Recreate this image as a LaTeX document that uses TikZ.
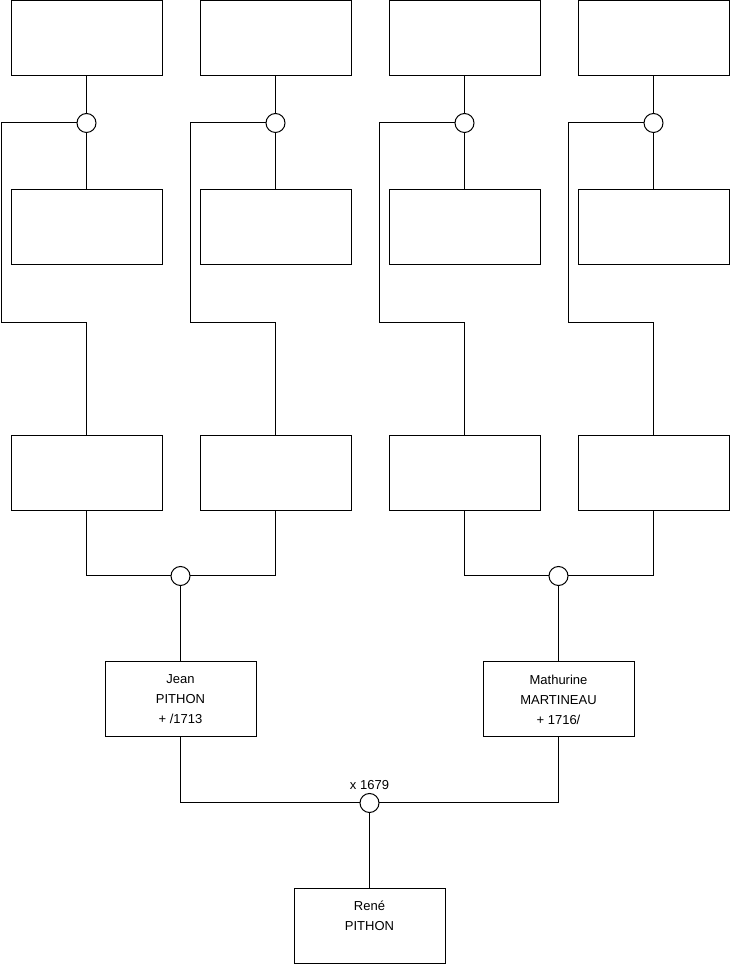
\documentclass[tikz,border=0pt]{standalone}
\usepackage{fontspec}
\setmainfont{Liberation Sans}
\usetikzlibrary{positioning}

\begin{document}
\begin{tikzpicture}[x=1pt,y=1pt,line width=1pt,node distance=38pt,
   perbox/.style={draw,minimum width=151pt,minimum height=75pt,inner sep=1pt,
     outer sep=0pt,align=center,font=\fontsize{13}{20}\selectfont},
   union/.style={draw,circle,minimum size=19pt,inner sep=0pt,outer sep=0pt,fill=white}]
\useasboundingbox (0,0) rectangle (740,975);
% fathers of the grandparents
\node[perbox] (pa1) at (86.5,936.5) {};
\node[perbox,right=of pa1] (pa2) {};
\node[perbox,right=of pa2] (pa3) {};
\node[perbox,right=of pa3] (pa4) {};
% mothers of the grandparents
\node[perbox,below=114pt of pa1] (ma1) {};
\node[perbox,below=114pt of pa2] (ma2) {};
\node[perbox,below=114pt of pa3] (ma3) {};
\node[perbox,below=114pt of pa4] (ma4) {};
% grandparents
\node[perbox,below=171pt of ma1] (gp1) {};
\node[perbox,below=171pt of ma2] (gp2) {};
\node[perbox,below=171pt of ma3] (gp3) {};
\node[perbox,below=171pt of ma4] (gp4) {};
% parents and child
\node[perbox] (jean) at (180.5,275.5) {Jean\\PITHON\\+ /1713};
\node[perbox] (mathurine) at (558.5,275.5) {Mathurine\\MARTINEAU\\+ 1716/};
\node[perbox] (rene) at (369.5,49) {René\\PITHON\\~};
% unions
\node[union] (u1) at (86.5,852) {};
\node[union] (u2) at (275.5,852) {};
\node[union] (u3) at (464.5,852) {};
\node[union] (u4) at (653.5,852) {};
\node[union] (uj) at (180.5,399) {};
\node[union] (um) at (558.5,399) {};
\node[union,label={[font=\fontsize{13}{14}\selectfont,label distance=0pt]above:x 1679}] (ur) at (369.5,172) {};

\draw (pa1) -- (u1) -- (ma1);
\draw (pa2) -- (u2) -- (ma2);
\draw (pa3) -- (u3) -- (ma3);
\draw (pa4) -- (u4) -- (ma4);
\draw (u1.west) -- ++(-76pt,0) |- ([yshift=113pt]gp1.north) -- (gp1);
\draw (u2.west) -- ++(-76pt,0) |- ([yshift=113pt]gp2.north) -- (gp2);
\draw (u3.west) -- ++(-76pt,0) |- ([yshift=113pt]gp3.north) -- (gp3);
\draw (u4.west) -- ++(-76pt,0) |- ([yshift=113pt]gp4.north) -- (gp4);
\draw (gp1) |- (uj) -| (gp2);
\draw (gp3) |- (um) -| (gp4);
\draw (uj) -- (jean);
\draw (um) -- (mathurine);
\draw (jean) |- (ur) -| (mathurine);
\draw (ur) -- (rene);
\end{tikzpicture}
\end{document}
